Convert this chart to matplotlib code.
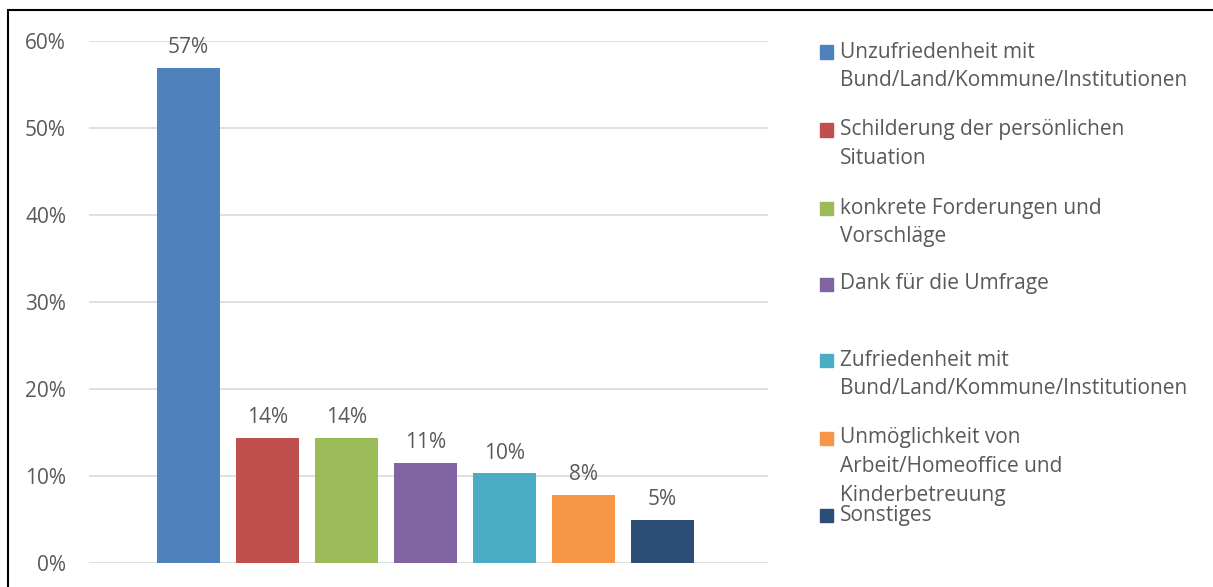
#!/usr/bin/env python3
"""Kategorien der Freitextantworten (Anteil der Nennungen)."""
import matplotlib
matplotlib.use("Agg")
import matplotlib.pyplot as plt
from matplotlib.patches import Rectangle

categories = [
    "Unzufriedenheit mit\nBund/Land/Kommune/Institutionen",
    "Schilderung der persönlichen\nSituation",
    "konkrete Forderungen und\nVorschläge",
    "Dank für die Umfrage",
    "Zufriedenheit mit\nBund/Land/Kommune/Institutionen",
    "Unmöglichkeit von\nArbeit/Homeoffice und\nKinderbetreuung",
    "Sonstiges",
]
values = [56.9, 14.4, 14.4, 11.5, 10.3, 7.8, 5.0]
value_labels = ["57%", "14%", "14%", "11%", "10%", "8%", "5%"]
colors = ["#4F81BD", "#C0504D", "#9BBB59", "#8064A2", "#4BACC6", "#F79646", "#2C4D75"]
yticks = [0, 10, 20, 30, 40, 50, 60]
# legend rows (centre of first text line, px from top) -- layout only
legend_rows_px = [52, 130, 208, 284, 360, 438, 515]
line_step = 28.7

W, H = 1213, 587
plt.rcParams["font.family"] = ["Open Sans", "DejaVu Sans"]
txt = "#595959"
fs = 15

fig = plt.figure(figsize=(W / 100, H / 100), dpi=100)
ax = fig.add_axes([89 / W, 1 - 563 / H, (768 - 89) / W, (563 - 41) / H])

xs = list(range(len(values)))
ax.bar(xs, values, width=63 / 79, color=colors, zorder=3)
for x, v, lab in zip(xs, values, value_labels):
    ax.annotate(lab, (x, v), xytext=(0, 7), textcoords="offset points",
                ha="center", va="bottom", fontsize=fs, color=txt)

ax.set_xlim((89 - 188.5) / 79, (768 - 188.5) / 79)
ax.set_ylim(0, 60)
ax.set_yticks(yticks)
ax.set_yticklabels([f"{t}%" for t in yticks], fontsize=fs, color=txt)
ax.set_xticks([])
ax.tick_params(axis="y", length=0, pad=16.5)
ax.grid(axis="y", color="#D9D9D9", linewidth=1.2, zorder=0)
for s in ax.spines.values():
    s.set_visible(False)

# legend drawn by hand (Excel-style, wrapped entries)
for lab, c, ypx in zip(categories, colors, legend_rows_px):
    fig.patches.append(Rectangle((820 / W, 1 - (ypx + 6.5) / H), 13 / W, 13 / H,
                                 transform=fig.transFigure, color=c))
    for k, line in enumerate(lab.split("\n")):
        fig.text(840 / W, 1 - (ypx + k * line_step) / H, line, fontsize=fs,
                 color=txt, va="center", ha="left")

# outer frame
fig.patches.append(Rectangle((8 / W, -0.05), 1.2, 1 - 10 / H + 0.05,
                             transform=fig.transFigure, fill=False,
                             edgecolor="black", linewidth=1.5))

fig.savefig("out.png", dpi=100)
